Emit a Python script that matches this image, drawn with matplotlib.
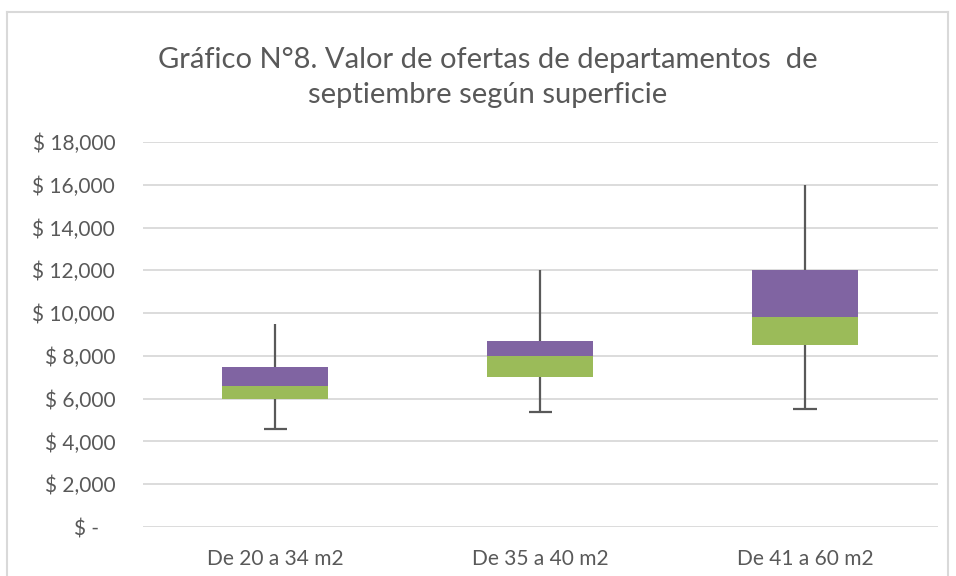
import numpy as np
import matplotlib.pyplot as plt
from matplotlib.lines import Line2D
from matplotlib.ticker import FuncFormatter

plt.rcParams["font.family"] = ["Lato", "DejaVu Sans"]

# --- data (pesos) ---
categories = ["De 20 a 34 m2", "De 35 a 40 m2", "De 41 a 60 m2"]
minimum = [4600, 5400, 5500]
q1 = [6000, 7000, 8500]
median = [6600, 8000, 9800]
q3 = [7500, 8700, 12000]
maximum = [9500, 12000, 16000]

TEXT = "#595959"
GRID = "#D9D9D9"
GREEN = "#9BBB59"
PURPLE = "#8064A2"

fig = plt.figure(figsize=(9.56, 5.76), dpi=100)
ax = fig.add_axes([0.1496, 0.085, 0.8314, 0.6685])

x = np.arange(len(categories))
q1 = np.array(q1)
median = np.array(median)
q3 = np.array(q3)

# whiskers first so the boxes sit on top
ax.vlines(x, minimum, q1, color=TEXT, lw=1.6, zorder=2)
ax.vlines(x, q3, maximum, color=TEXT, lw=1.6, zorder=2)
ax.hlines(minimum, x - 0.045, x + 0.045, color=TEXT, lw=1.6, zorder=2)

# stacked boxes: Q1 -> median (green), median -> Q3 (purple)
ax.bar(x, median - q1, bottom=q1, width=0.4, color=GREEN, zorder=3)
ax.bar(x, q3 - median, bottom=median, width=0.4, color=PURPLE, zorder=3)

ax.set_xlim(-0.5, 2.5)
ax.set_ylim(0, 18000)
ax.set_yticks(np.arange(0, 18001, 2000))
ax.yaxis.set_major_formatter(
    FuncFormatter(lambda v, p: "$ -   " if v == 0 else f"$ {v:,.0f}"))
ax.set_xticks(x, categories)
ax.grid(axis="y", color=GRID, lw=1.3)
ax.set_axisbelow(True)
for s in ax.spines.values():
    s.set_visible(False)
ax.tick_params(length=0, colors=TEXT, labelsize=15)
ax.tick_params(axis="y", pad=20)
ax.tick_params(axis="x", pad=16)

fig.text(0.51, 0.866, "Gráfico N°8. Valor de ofertas de departamentos  de\nseptiembre según superficie",
         ha="center", va="center", fontsize=21, color=TEXT, linespacing=1.42)

# chart frame
for xs, ys in [([7, 7], [576, 12]), ([7, 948], [12, 12]), ([948, 948], [12, 576])]:
    fig.add_artist(Line2D(np.array(xs) / 956, 1 - np.array(ys) / 576,
                          color=GRID, lw=1.5, transform=fig.transFigure))

fig.savefig("out.png", dpi=100)
